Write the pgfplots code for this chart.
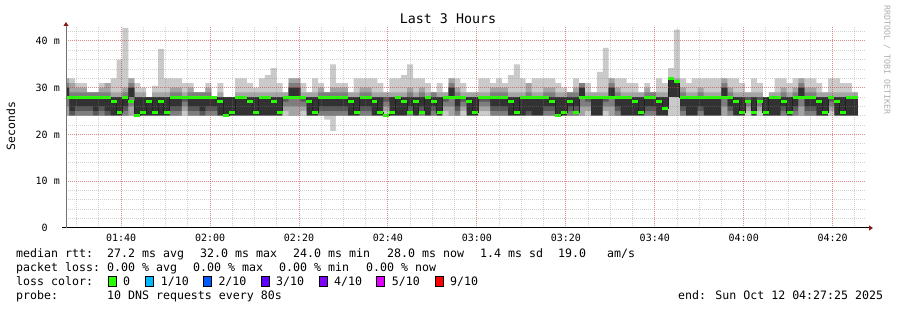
\documentclass[border=0pt]{standalone}
\usepackage{fontspec}
\setmainfont{DejaVu Sans Mono}
\usepackage{pgfplots}
\pgfplotsset{compat=1.18}
\usepackage{pgfplotstable}
\usetikzlibrary{arrows.meta}
\definecolor{cA}{HTML}{CACACA}
\definecolor{cB}{HTML}{A4A4A4}
\definecolor{cC}{HTML}{7E7E7E}
\definecolor{cD}{HTML}{585858}
\definecolor{cE}{HTML}{323232}
\definecolor{medline}{HTML}{202020}
\definecolor{lossA}{HTML}{26FF00}
\definecolor{lossB}{HTML}{00B8FF}
\definecolor{lossC}{HTML}{0059FF}
\definecolor{lossD}{HTML}{5E00FF}
\definecolor{lossE}{HTML}{7E00FF}
\definecolor{lossF}{HTML}{DD00FF}
\definecolor{lossG}{HTML}{FF0000}
\definecolor{arrowred}{HTML}{8B1A1A}
\pgfplotstableread{
k a b c d e f g h i j m
-1 24 24 26 28 28 30 30 31 32 32 28
0 24 24 24 24 25 28 28 29 31 32 28
1 24 24 24 25 26 28 28 29 30 31 28
2 24 24 24 25 26 28 28 29 30 31 28
3 24 24 24 25 26 28 28 29 29 29 28
4 24 24 24 24 25 28 28 29 29 29 28
5 24 24 24 25 26 28 28 29 30 31 28
6 24 24 24 24 25 28 28 29 31 31 28
7 24 24 24 24 24 28 28 28 29 32 27.1
8 24 24 24 24 24 28 28 28 29 36 24.8
9 24 24 24 25 26 28 28 29 30 42.8 28
10 24 24 26 28 28 30 30 31 32 32 27.1
11 24 24 24 24 24 28 28 28 29 31 24
12 24 24 24 24 24 28 28 28 29 30 24.8
13 24 24 24 24 24 28 28 28 28 28 27.1
14 24 24 24 24 24 28 28 28 29 30.4 24.8
15 24 24 24 24 24 28 28 28 29 38.3 27.1
16 24 24 24 24 24 28 28 28 29 32 24.8
17 24 24 24 25 26 28 28 29 30 32 28
18 24 24 24 25 26 28 28 29 30 32 28
19 24 25 26 27 28 28 28 28 29 31 28
20 24 24 24 25 26 28 28 29 30 31 28
21 24 24 24 25 26 28 28 29 29 29 28
22 24 24 24 24 25 28 28 29 29 29 28
23 24 24 24 25 26 28 28 29 30 31 28
24 24 24 24 25 26 28 28 28 28 28 28
25 24 24 24 24 24 28 28 28 29 31 27.1
26 24 24 24 24 24 28 28 28 28 28 24
27 24 24 24 24 24 28 28 28 28 28 24.8
28 24 24 24 24 24 28 28 28 29 32 28
29 24 24 24 24 24 28 28 28 29 32 28
30 24 24 24 24 24 28 28 28 29 31 27.1
31 24 24 24 24 24 28 28 28 29 30 24.8
32 24 24 24 24 24 28 28 28 29 32 28
33 24 24 24 24 24 28 28 28 29 32.7 28
34 24 24 24 24 24 28 28 28 29 34.2 27.1
35 24 24 24 24 24 28 28 28 29 31 24.8
36 24 25 26 27 28 28 28 28 29 29 28
37 24 24 26 28 28 30 30 31 32 32 28
38 24 24 26 28 28 30 30 31 32 32 28
39 24 25 26 27 28 28 28 28 29 31 28
40 24 24 24 24 24 28 28 28 29 29 27.1
41 24 24 24 24 24 28 28 28 29 32 24.8
42 24 24 24 25 26 28 28 29 30 31 28
43 23.2 24 24 25 26 28 28 29 29 29 28
44 20.7 24 24 25 26 28 28 29 30 35 28
45 24 24 24 25 26 28 28 29 30 31 28
46 24 24 24 25 26 28 28 29 30 31 28
47 24 24 24 24 24 28 28 28 29 29 27.1
48 24 24 24 24 24 28 28 28 29 32 24.8
49 24 24 24 25 26 28 28 29 30 32 28
50 24 24 24 25 26 28 28 29 30 32 28
51 24 24 24 24 24 28 28 28 29 32 27.1
52 24 24 24 24 24 28 28 28 29 31 24.8
53 24 25 26 27 28 28 28 28 29 29 24
54 24 24 24 24 24 28 28 28 29 32 24.8
55 24 24 24 24 24 28 28 28 29 32 28
56 24 24 24 24 24 28 28 28 29 32.7 27.1
57 24 24 24 25 26 28 28 29 30 35 24.8
58 24 24 24 24 24 28 28 28 29 32 27.1
59 24 24 24 25 26 28 28 29 30 32 24.8
60 24 24 24 24 24 28 28 28 29 31 28
61 24 24 24 25 26 28 28 29 29 29 27.1
62 24 24 24 24 24 28 28 28 29 31 24.8
63 24 25 26 27 28 28 28 28 29 29 28
64 24 24 26 28 28 30 30 31 32 32 28
65 24 24 24 25 26 28 28 29 30 32 28
66 24 25 26 27 28 28 28 28 29 31 28
67 24 24 24 24 24 28 28 28 29 29 27.1
68 24 24 24 24 24 28 28 28 29 29 24.8
69 24 25 26 27 28 28 28 28 29 32 28
70 24 25 26 27 28 28 28 28 29 32 28
71 24 24 24 25 26 28 28 29 30 31 28
72 24 24 24 25 26 28 28 29 30 32 28
73 24 24 24 25 26 28 28 29 30 31 28
74 24 24 24 24 24 28 28 28 29 32.7 27.1
75 24 24 24 24 24 28 28 28 29 35 24.8
76 24 24 24 24 24 28 28 28 29 32 28
77 24 24 24 24 25 28 28 29 31 31 28
78 24 24 24 24 24 28 28 28 29 32 28
79 24 24 24 24 24 28 28 28 29 32 28
80 24 24 24 25 26 28 28 29 30 32 28
81 24 24 24 25 26 28 28 29 30 32 27.1
82 24 24 24 24 24 28 28 28 29 31 24
83 24 24 24 24 24 28 28 28 29 30 24.8
84 24 24 24 25 26 28 28 29 29 29 27.1
85 24 24 24 25 26 28 28 29 30 32 24.8
86 24 24 26 28 28 30 30 31 31 31 28
87 24 25 26 27 28 28 28 28 29 31 28
88 24 24 24 24 24 28 28 28 29 29 28
89 24 24 24 24 24 28 28 28 29 33.4 28
90 24 25 26 27 28 28 28 28 29 38.5 28
91 24 24 26 28 28 30 30 31 32 32 28
92 24 24 24 25 26 28 28 29 30 32 28
93 24 24 24 24 24 28 28 28 29 32 28
94 24 24 24 24 24 28 28 28 29 31 28
95 24 24 24 24 24 28 28 28 29 31 27.1
96 24 24 24 24 24 28 28 28 29 29 24.8
97 24 24 24 25 26 28 28 29 30 31 28
98 24 24 24 25 26 28 28 29 29 29 28
99 24 24 24 24 24 28 28 28 29 32 27.1
100 24 24 24 24 24 28 28 28 29 31 25.5
101 24 28 28 28 28 32 32 32 32 34.2 32
102 24 28 28 28 28 31.4 31.4 31.4 32 42.4 31.4
103 24 24 24 25 26 28 28 29 30 32 28
104 24 24 24 24 24 28 28 28 29 31 28
105 24 24 24 24 24 28 28 28 29 32 28
106 24 24 24 25 26 28 28 29 30 32 28
107 24 24 24 24 24 28 28 28 29 32 28
108 24 24 24 24 24 28 28 28 29 32 28
109 24 24 24 24 24 28 28 28 29 32 28
110 24 24 26 28 28 30 30 31 32 32 28
111 24 24 24 25 26 28 28 29 30 32 28
112 24 24 24 24 24 28 28 28 29 32 27.1
113 24 24 24 24 24 28 28 28 29 31 24.8
114 24 25 26 27 28 28 28 28 29 29 27.1
115 24 24 24 24 24 28 28 28 29 32 24.8
116 24 25 26 27 28 28 28 28 29 31 27.1
117 24 24 24 24 24 28 28 28 28 28 24.8
118 24 24 24 24 24 28 28 28 29 29 28
119 24 24 24 24 24 28 28 28 29 32 28
120 24 24 24 25 26 28 28 29 30 32 27.1
121 24 24 24 24 24 28 28 28 29 31 24.8
122 24 24 24 25 26 28 28 29 30 32 28
123 24 24 26 28 28 30 30 31 32 32 28
124 24 24 24 25 26 28 28 29 30 32 28
125 24 24 24 25 26 28 28 29 30 32 28
126 24 24 24 24 24 28 28 28 29 31 27.1
127 24 24 24 24 24 28 28 28 29 29 24.8
128 24 25 26 27 28 28 28 28 29 32 28
129 24 24 24 24 24 28 28 28 29 32 27.1
130 24 24 24 24 24 28 28 28 29 31 24.8
131 24 24 24 24 24 28 28 28 29 31 28
132 24 24 24 24 24 28 28 28 29 29 28
133 24 24 24 24 24 28 28 28 29 29 28
}\smoke
\newcommand{\layer}[2]{\addplot[const plot, fill=#1, draw=none, forget plot] table[x=k,y=#2]{\smoke} \closedcycle;}
\newcommand{\lf}{\fontsize{11.6}{13}\selectfont}
\begin{document}
\begin{tikzpicture}[x=1pt,y=1pt]
\path[use as bounding box] (0,0) rectangle (897,310);
\begin{axis}[at={(66pt,82pt)}, anchor=south west, scale only axis,
  width=800pt, height=202pt,
  xmin=-0.523, xmax=134.39, ymin=0, ymax=43.2,
  axis on top,
  axis lines*=left,
  xtick={8.77,23.77,...,128.77},
  xticklabels={01:40,02:00,02:20,02:40,03:00,03:20,03:40,04:00,04:20},
  minor xtick={1.27,5.02,...,132.6},
  ytick={0,10,20,30,40},
  yticklabels={0\phantom{ m},10 m,20 m,30 m,40 m},
  minor ytick={2,4,...,42},
  grid=both,
  major grid style={draw=red, opacity=0.35, line width=1pt, dash pattern=on 1pt off 1pt},
  minor grid style={draw=gray, opacity=0.35, line width=1pt, dash pattern=on 1pt off 1pt},
  major tick length=0pt, minor tick length=0pt,
  tick style={draw=none},
  xticklabel style={font=\fontsize{10}{12}\selectfont, inner sep=0pt, anchor=north, yshift=-6pt},
  yticklabel style={font=\fontsize{10}{12}\selectfont, inner sep=0pt, anchor=east, xshift=-6pt},
  x axis line style={draw=black, line width=1pt, shorten <=-4pt, shorten >=-7pt, -{Triangle[length=4pt,width=5pt,color=arrowred]}},
  y axis line style={draw=black!55, line width=1pt, shorten >=-4pt, -{Triangle[length=4pt,width=5pt,color=arrowred]}},
]
\layer{cA}{j}
\layer{cB}{i}
\layer{cC}{h}
\layer{cD}{g}
\layer{cE}{f}
\layer{cD}{e}
\layer{cC}{d}
\layer{cB}{c}
\layer{cA}{b}
\layer{white}{a}
\addplot[const plot mark left, draw=medline, line width=1pt, forget plot] table[x=k,y=m]{\smoke};
\addplot[jump mark left, draw=lossA, line width=3pt, line cap=butt, forget plot] table[x=k,y=m]{\smoke};
\end{axis}
% title and side texts
\node[anchor=base, inner sep=0pt] at (448,286) {\fontsize{13.3}{15}\selectfont Last 3 Hours};
\node[rotate=90, anchor=center, inner sep=0pt] at (11,184) {\fontsize{11.4}{13}\selectfont Seconds};
\node[rotate=-90, anchor=center, inner sep=0pt, text=black!32] at (887,250) {\fontsize{8.3}{10}\selectfont RRDTOOL / TOBI OETIKER};
% legend line 1
\node[anchor=base west, inner sep=0pt] at (16,52) {\lf median rtt:};
\node[anchor=base west, inner sep=0pt] at (107,52) {\lf 27.2 ms avg};
\node[anchor=base west, inner sep=0pt] at (200,52) {\lf 32.0 ms max};
\node[anchor=base west, inner sep=0pt] at (293,52) {\lf 24.0 ms min};
\node[anchor=base west, inner sep=0pt] at (387,52) {\lf 28.0 ms now};
\node[anchor=base west, inner sep=0pt] at (480,52) {\lf 1.4 ms sd};
\node[anchor=base west, inner sep=0pt] at (558,52) {\lf 19.0};
\node[anchor=base west, inner sep=0pt] at (607,52) {\lf am/s};
% legend line 2
\node[anchor=base west, inner sep=0pt] at (16,38) {\lf packet loss:};
\node[anchor=base west, inner sep=0pt] at (107,38) {\lf 0.00 \% avg};
\node[anchor=base west, inner sep=0pt] at (193,38) {\lf 0.00 \% max};
\node[anchor=base west, inner sep=0pt] at (279,38) {\lf 0.00 \% min};
\node[anchor=base west, inner sep=0pt] at (366,38) {\lf 0.00 \% now};
% legend line 3
\node[anchor=base west, inner sep=0pt] at (16,24) {\lf loss color:};
\draw[fill=lossA, line width=0.7pt] (108.3,23.5) rectangle (116.3,33.5);
\node[anchor=base west, inner sep=0pt] at (123,24) {\lf 0};
\draw[fill=lossB, line width=0.7pt] (145.7,23.5) rectangle (153.7,33.5);
\node[anchor=base west, inner sep=0pt] at (160.7,24) {\lf 1/10};
\draw[fill=lossC, line width=0.7pt] (203.3,23.5) rectangle (211.3,33.5);
\node[anchor=base west, inner sep=0pt] at (218.3,24) {\lf 2/10};
\draw[fill=lossD, line width=0.7pt] (261,23.5) rectangle (269,33.5);
\node[anchor=base west, inner sep=0pt] at (276,24) {\lf 3/10};
\draw[fill=lossE, line width=0.7pt] (319,23.5) rectangle (327,33.5);
\node[anchor=base west, inner sep=0pt] at (334,24) {\lf 4/10};
\draw[fill=lossF, line width=0.7pt] (376.7,23.5) rectangle (384.7,33.5);
\node[anchor=base west, inner sep=0pt] at (391.7,24) {\lf 5/10};
\draw[fill=lossG, line width=0.7pt] (435,23.5) rectangle (443,33.5);
\node[anchor=base west, inner sep=0pt] at (450,24) {\lf 9/10};
% legend line 4
\node[anchor=base west, inner sep=0pt] at (16,10.5) {\lf probe:};
\node[anchor=base west, inner sep=0pt] at (107,10.5) {\lf 10 DNS requests every 80s};
\node[anchor=base west, inner sep=0pt] at (678,10.5) {\lf end: Sun Oct 12 04:27:25 2025};
\end{tikzpicture}
\end{document}
